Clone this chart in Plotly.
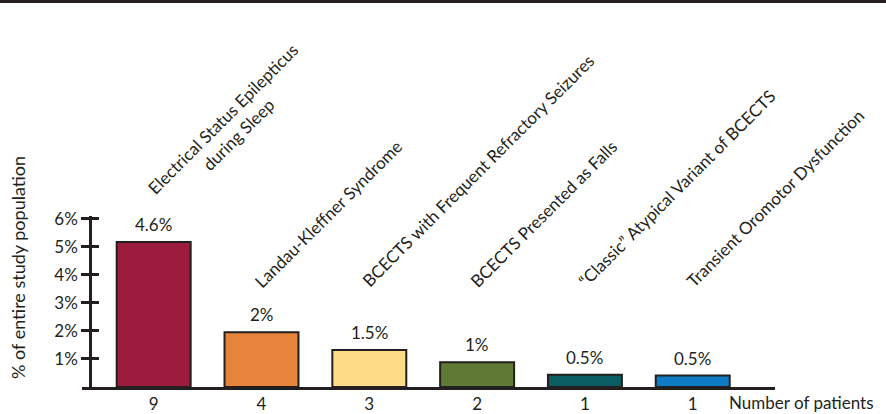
import plotly.graph_objects as go

# ---- data ----
categories = [
    "Electrical Status Epilepticus<br>during Sleep",
    "Landau-Kleffner Syndrome",
    "BCECTS with Frequent Refractory Seizures",
    "BCECTS Presented as Falls",
    "\u201cClassic\u201d Atypical Variant of BCECTS",
    "Transient Oromotor Dysfunction",
]
bar_heights = [5.17, 1.95, 1.32, 0.88, 0.44, 0.41]   # drawn heights (% of population)
value_labels = ["4.6%", "2%", "1.5%", "1%", "0.5%", "0.5%"]
patients = ["9", "4", "3", "2", "1", "1"]
bar_colors = ["#9b1c3d", "#e5843a", "#fedc87", "#5f7a34", "#0a5d62", "#0e7cc4"]
y_tickvals = [1, 2, 3, 4, 5, 6]
y_ticktext = ["1%", "2%", "3%", "4%", "5%", "6%"]

# ---- style ----
FONT = "Lato"
INK = "#231f20"
FS = 17

# plot-area geometry (pixels)
W, H = 886, 414
L, R, T, B = 82, 111, 216, 27
pw, ph = W - L - R, H - T - B
YMAX = 6.1

def px_to_paper_x(px):
    return (px - L) / pw

def px_to_paper_y(py):
    return (H - B - py) / ph

idx = list(range(len(categories)))

fig = go.Figure()
fig.add_trace(go.Bar(
    x=idx, y=bar_heights,
    marker=dict(color=bar_colors, line=dict(color=INK, width=2)),
    width=0.686,
    hoverinfo="skip",
))
# empty trace to carry the inward tick axis
fig.add_trace(go.Scatter(x=[], y=[], yaxis="y2", showlegend=False, hoverinfo="skip"))

annotations = []
# value labels above bars
for i, (h, lab) in enumerate(zip(bar_heights, value_labels)):
    annotations.append(dict(
        x=i, y=h, xref="x", yref="y", text=lab, showarrow=False,
        xanchor="center", yanchor="bottom", yshift=5,
        font=dict(family=FONT, size=FS, color=INK),
    ))

# rotated category labels
label_bottom_px = [217, 294, 294, 294, 294, 294]
label_xshift = [-13, -14, -14, -14, -14, -14]
for i, (cat, by, xs) in enumerate(zip(categories, label_bottom_px, label_xshift)):
    annotations.append(dict(
        x=i, y=px_to_paper_y(by), xref="x", yref="paper",
        text=cat, showarrow=False, textangle=-45,
        xanchor="left", yanchor="bottom", xshift=xs,
        align="center",
        font=dict(family=FONT, size=FS, color=INK),
    ))

# axis captions
annotations.append(dict(
    x=px_to_paper_x(727), y=px_to_paper_y(402), xref="paper", yref="paper",
    text="Number of patients", showarrow=False, xanchor="left", yanchor="middle",
    font=dict(family=FONT, size=FS, color=INK),
))
annotations.append(dict(
    x=px_to_paper_x(18), y=px_to_paper_y(268), xref="paper", yref="paper",
    text="% of entire study population", showarrow=False, textangle=-90,
    xanchor="center", yanchor="middle",
    font=dict(family=FONT, size=18, color=INK),
))

yaxis_pos = px_to_paper_x(90)

fig.update_layout(
    width=W, height=H,
    margin=dict(l=L, r=R, t=T, b=B, pad=0, autoexpand=False),
    paper_bgcolor="white", plot_bgcolor="white",
    showlegend=False,
    font=dict(family=FONT, size=FS, color=INK),
    xaxis=dict(
        range=[-0.665, 5.763], automargin=False,
        tickvals=idx, ticktext=patients,
        showline=True, linecolor=INK, linewidth=3,
        ticks="", showgrid=False, zeroline=False,
        ticklabelstandoff=0,
        tickfont=dict(family=FONT, size=FS, color=INK),
    ),
    yaxis=dict(
        range=[0, YMAX], anchor="free", position=yaxis_pos, automargin=False,
        tickvals=y_tickvals, ticktext=y_ticktext,
        showline=True, linecolor=INK, linewidth=2.5,
        ticks="outside", ticklen=8, tickwidth=2.5, tickcolor=INK,
        showgrid=False, zeroline=False,
        tickfont=dict(family=FONT, size=FS, color=INK),
    ),
    yaxis2=dict(
        range=[0, YMAX], anchor="free", position=yaxis_pos, overlaying="y",
        automargin=False,
        tickvals=y_tickvals, showticklabels=False,
        showline=False, ticks="inside", ticklen=8, tickwidth=2.5, tickcolor=INK,
        showgrid=False, zeroline=False,
    ),
    annotations=annotations,
    shapes=[dict(
        type="rect", xref="paper", yref="paper",
        x0=px_to_paper_x(0), x1=px_to_paper_x(W),
        y0=px_to_paper_y(3), y1=px_to_paper_y(0),
        fillcolor=INK, line=dict(width=0), layer="above",
    )],
)

fig.write_html("out.html")
